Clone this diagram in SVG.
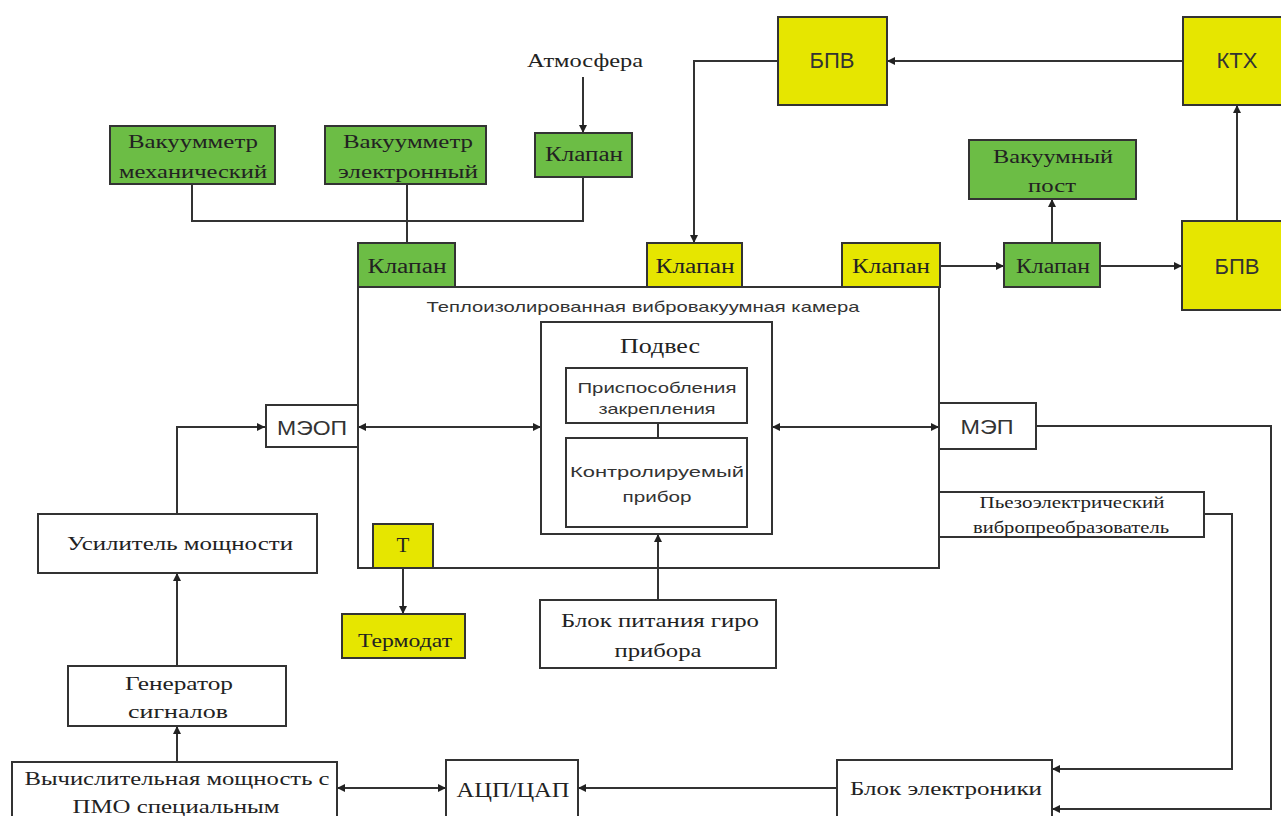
<svg xmlns="http://www.w3.org/2000/svg" width="1281" height="816" viewBox="0 0 1281 816">
<defs>
<marker id="ah" viewBox="0 0 10 10" refX="10" refY="5" markerWidth="9" markerHeight="8" markerUnits="userSpaceOnUse" orient="auto-start-reverse">
<path d="M0,0 L10,5 L0,10 z" fill="#222"/>
</marker>
<style>
.bx{stroke:#333;stroke-width:2;fill:#fff}
.g{fill:#6cbd45}
.y{fill:#e6e600}
.nf{fill:none}
.ln{stroke:#333;stroke-width:2;fill:none}
.ar{marker-end:url(#ah)}
.ar2{marker-start:url(#ah);marker-end:url(#ah)}
.s{font-family:"Liberation Serif","DejaVu Serif",serif;fill:#222;text-anchor:middle}
.a{font-family:"Liberation Sans","DejaVu Sans",sans-serif;fill:#333;text-anchor:middle}
</style>
</defs>
<rect width="1281" height="816" fill="#fff"/>

<g id="chamber"><rect class="bx nf" x="358" y="287" width="581" height="281"/>
<text class="a" x="643" y="312" font-size="15" textLength="433" lengthAdjust="spacingAndGlyphs">Теплоизолированная вибровакуумная камера</text></g>

<g id="connectors">
<path class="ln" d="M192,184 V221 H583 V177"/>
<path class="ln" d="M407,184 V243"/>
<path class="ln ar" d="M583,77 V133"/>
<path class="ln ar" d="M1183,61 H887"/>
<path class="ln ar" d="M778,61 H694 V243"/>
<path class="ln ar" d="M940,266 H1004"/>
<path class="ln ar" d="M1052,243 V199"/>
<path class="ln ar" d="M1100,266 H1182"/>
<path class="ln ar" d="M1237,221 V105"/>
<path class="ln" d="M658,423 V438"/>
<path class="ln ar2" d="M358,427 H541"/>
<path class="ln ar2" d="M772,427 H939"/>
<path class="ln ar" d="M177,514 V427 H265"/>
<path class="ln ar" d="M177,666 V573"/>
<path class="ln ar" d="M177,762 V726"/>
<path class="ln ar2" d="M337,788 H446"/>
<path class="ln ar" d="M837,788 H578"/>
<path class="ln ar" d="M1036,426 H1271 V809 H1052"/>
<path class="ln ar" d="M1204,514 H1232 V769 H1052"/>
<path class="ln ar" d="M403,568 V614"/>
<path class="ln ar" d="M658,600 V534"/>
</g>

<g id="atmosfera"><text class="s" x="585" y="67" font-size="19" textLength="116" lengthAdjust="spacingAndGlyphs">Атмосфера</text></g>

<g id="vac-mech"><rect class="bx g" x="110" y="126" width="165" height="58"/>
<text class="s" x="193" y="148" font-size="19" textLength="130" lengthAdjust="spacingAndGlyphs">Вакуумметр</text>
<text class="s" x="193" y="178" font-size="19" textLength="148" lengthAdjust="spacingAndGlyphs">механический</text></g>

<g id="vac-el"><rect class="bx g" x="325" y="126" width="161" height="58"/>
<text class="s" x="408" y="148" font-size="19" textLength="130" lengthAdjust="spacingAndGlyphs">Вакуумметр</text>
<text class="s" x="408" y="178" font-size="19" textLength="140" lengthAdjust="spacingAndGlyphs">электронный</text></g>

<g id="klapan-atm"><rect class="bx g" x="535" y="133" width="97" height="44"/>
<text class="s" x="584" y="161" font-size="20" textLength="78" lengthAdjust="spacingAndGlyphs">Клапан</text></g>

<g id="bpv-top"><rect class="bx y" x="778" y="17" width="109" height="88"/>
<text class="a" x="832" y="68" font-size="22">БПВ</text></g>

<g id="ktx"><rect class="bx y" x="1183" y="17" width="110" height="88"/>
<text class="a" x="1237" y="68" font-size="22">КТХ</text></g>

<g id="vac-post"><rect class="bx g" x="969" y="140" width="167" height="59"/>
<text class="s" x="1053" y="163" font-size="19" textLength="120" lengthAdjust="spacingAndGlyphs">Вакуумный</text>
<text class="s" x="1052" y="192" font-size="19" textLength="48" lengthAdjust="spacingAndGlyphs">пост</text></g>

<g id="klapan-1"><rect class="bx g" x="358" y="243" width="97" height="44"/>
<text class="s" x="407" y="273" font-size="20" textLength="79" lengthAdjust="spacingAndGlyphs">Клапан</text></g>

<g id="klapan-2"><rect class="bx y" x="647" y="243" width="95" height="44"/>
<text class="s" x="695" y="273" font-size="20" textLength="79" lengthAdjust="spacingAndGlyphs">Клапан</text></g>

<g id="klapan-3"><rect class="bx y" x="842" y="243" width="98" height="44"/>
<text class="s" x="891" y="273" font-size="20" textLength="78" lengthAdjust="spacingAndGlyphs">Клапан</text></g>

<g id="klapan-4"><rect class="bx g" x="1004" y="243" width="96" height="44"/>
<text class="s" x="1053" y="273" font-size="20" textLength="74" lengthAdjust="spacingAndGlyphs">Клапан</text></g>

<g id="bpv-bottom"><rect class="bx y" x="1182" y="221" width="110" height="89"/>
<text class="a" x="1237" y="274" font-size="22">БПВ</text></g>

<g id="podves"><rect class="bx nf" x="541" y="322" width="231" height="212"/>
<text class="s" x="660" y="353" font-size="21" textLength="80" lengthAdjust="spacingAndGlyphs">Подвес</text></g>

<g id="prisposobleniya"><rect class="bx" x="566" y="368" width="181" height="55"/>
<text class="a" x="657" y="393" font-size="15" textLength="159" lengthAdjust="spacingAndGlyphs">Приспособления</text>
<text class="a" x="657" y="414" font-size="15" textLength="117" lengthAdjust="spacingAndGlyphs">закрепления</text></g>

<g id="pribor"><rect class="bx" x="566" y="438" width="181" height="89"/>
<text class="a" x="657" y="477" font-size="15" textLength="174" lengthAdjust="spacingAndGlyphs">Контролируемый</text>
<text class="a" x="657" y="502" font-size="15" textLength="69" lengthAdjust="spacingAndGlyphs">прибор</text></g>

<g id="meop"><rect class="bx" x="266" y="405" width="92" height="42"/>
<text class="a" x="312" y="435" font-size="21" textLength="70" lengthAdjust="spacingAndGlyphs">МЭОП</text></g>

<g id="mep"><rect class="bx" x="939" y="403" width="97" height="46"/>
<text class="a" x="987" y="434" font-size="21" textLength="53" lengthAdjust="spacingAndGlyphs">МЭП</text></g>

<g id="piezo"><rect class="bx" x="939" y="492" width="265" height="45"/>
<text class="s" x="1072" y="508" font-size="16" textLength="185" lengthAdjust="spacingAndGlyphs">Пьезоэлектрический</text>
<text class="s" x="1071" y="533" font-size="16" textLength="196" lengthAdjust="spacingAndGlyphs">вибропреобразователь</text></g>

<g id="t"><rect class="bx y" x="373" y="524" width="60" height="44"/>
<text class="s" x="403" y="552" font-size="21">Т</text></g>

<g id="termodat"><rect class="bx y" x="342" y="614" width="123" height="44"/>
<text class="s" x="405" y="647" font-size="19" textLength="94" lengthAdjust="spacingAndGlyphs">Термодат</text></g>

<g id="blok-pitaniya"><rect class="bx" x="540" y="600" width="236" height="68"/>
<text class="s" x="660" y="627" font-size="19" textLength="198" lengthAdjust="spacingAndGlyphs">Блок питания гиро</text>
<text class="s" x="658" y="657" font-size="19" textLength="87" lengthAdjust="spacingAndGlyphs">прибора</text></g>

<g id="usilitel"><rect class="bx" x="38" y="514" width="279" height="59"/>
<text class="s" x="180" y="550" font-size="19" textLength="226" lengthAdjust="spacingAndGlyphs">Усилитель мощности</text></g>

<g id="generator"><rect class="bx" x="68" y="666" width="218" height="60"/>
<text class="s" x="179" y="690" font-size="19" textLength="108" lengthAdjust="spacingAndGlyphs">Генератор</text>
<text class="s" x="178" y="718" font-size="19" textLength="100" lengthAdjust="spacingAndGlyphs">сигналов</text></g>

<g id="vychisl"><rect class="bx" x="12" y="762" width="325" height="62"/>
<text class="s" x="177" y="785" font-size="19" textLength="305" lengthAdjust="spacingAndGlyphs">Вычислительная мощность с</text>
<text class="s" x="176" y="813" font-size="19" textLength="207" lengthAdjust="spacingAndGlyphs">ПМО специальным</text></g>

<g id="acp"><rect class="bx" x="446" y="760" width="132" height="64"/>
<text class="s" x="513" y="797" font-size="21" textLength="113" lengthAdjust="spacingAndGlyphs">АЦП/ЦАП</text></g>

<g id="blok-el"><rect class="bx" x="837" y="760" width="215" height="64"/>
<text class="s" x="946" y="795" font-size="19" textLength="192" lengthAdjust="spacingAndGlyphs">Блок электроники</text></g>
</svg>
